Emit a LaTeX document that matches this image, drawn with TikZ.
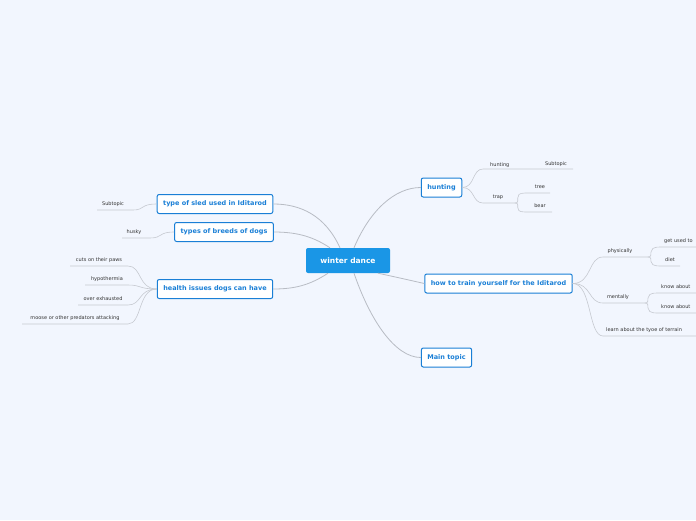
\documentclass[tikz,border=0pt]{standalone}
\usepackage{fontspec}
\setmainfont{DejaVu Sans}
\usetikzlibrary{positioning}
\definecolor{bgblue}{HTML}{F2F6FE}
\definecolor{topicblue}{HTML}{1A7FD6}
\definecolor{centerblue}{HTML}{1A96E6}
\definecolor{wiregray}{HTML}{B8BCC4}
\tikzset{
  topic/.style={draw=topicblue,line width=1pt,fill=white,rounded corners=2pt,
    text=topicblue,font=\fontsize{6.5}{8}\selectfont\bfseries,inner xsep=6pt,minimum height=19pt},
  leaf/.style={font=\fontsize{5}{6}\selectfont,text=black!80,inner sep=1pt},
  wire/.style={draw=wiregray,line width=0.8pt},
  thin/.style={draw=wiregray!80,line width=0.6pt}
}
\begin{document}
\begin{tikzpicture}[x=1pt,y=-1pt]
\fill[bgblue] (0,0) rectangle (696,520);
\useasboundingbox (0,0) rectangle (696,520);
\clip (0,0) rectangle (696,520);
\node[fill=centerblue,rounded corners=2pt,text=white,font=\fontsize{7.5}{9}\selectfont\bfseries,
  minimum width=84pt,minimum height=25pt] (root) at (348,260.5) {winter dance};
%%%%%%%%%%%%%%%%%%%%%%%%%%%%%%%%%
\node[topic] (hunt) at (441.5,187.5) {hunting};
\node[topic] (train) at (498.5,283.5) {how to train yourself for the Iditarod};
\node[topic] (mainb) at (446.5,357.5) {Main topic};
\node[topic] (sled) at (215,204) {type of sled used in Iditarod};
\node[topic] (breed) at (224,232) {types of breeds of dogs};
\node[topic] (health) at (215,289) {health issues dogs can have};
\draw[wire] (root.north) ++(6,0) .. controls (370,210) and (395,187.5) .. (hunt.west);
\draw[wire] (root.south) ++(30,0) .. controls (400,278) .. (train.west);
\draw[wire] (root.south) ++(6,0) .. controls (370,320) and (395,357.5) .. (mainb.west);
\draw[wire] (root.north) ++(-8,0) .. controls (325,215) and (300,204) .. (sled.east);
\draw[wire] (root.north) ++(-18,0) .. controls (315,238) and (300,232) .. (breed.east);
\draw[wire] (root.south) ++(-20,0) .. controls (310,285) and (295,289) .. (health.east);
%%%%%%%%%%%%%%%%%%%%%%%%%%%%%%%%%
\coordinate (hu1) at (483,169); \coordinate (hu2) at (518,169);
\coordinate (su2) at (573,169);
\node[leaf,above right=0pt and 6pt of hu1] (hunting) {hunting};
\node[leaf] (sub1) at (556,164) {Subtopic};
\draw[thin] (hunt.east) .. controls (475,187.5) and (472,169) .. (hu1) -- (su2);
\coordinate (tr1) at (483,203); \coordinate (tr2) at (515,203);
\node[leaf] (trap) at (498,197) {trap};
\draw[thin] (hunt.east) .. controls (475,187.5) and (472,203) .. (tr1) -- (tr2);
\node[leaf] (tree) at (540,187) {tree};
\node[leaf] (bear) at (540,206) {bear};
\draw[thin] (tr2) .. controls (522,203) and (512,193) .. (525,193) -- (550,193);
\draw[thin] (tr2) .. controls (522,203) and (512,212) .. (525,212) -- (552,212);
%%%%%%%%%%%%%%%%%%%%%%%%%%%%%%%%%
\node[leaf] (phys) at (620,251) {physically};
\node[leaf] (ment) at (618,297) {mentally};
\node[leaf,anchor=west] (terrain) at (605,330) {learn about the tyoe of terrain};
\draw[thin] (train.east) .. controls (592,283.5) and (588,257) .. (603,257) -- (648,257);
\draw[thin] (train.east) .. controls (592,283.5) and (588,303) .. (603,303) -- (645,303);
\draw[thin] (train.east) .. controls (592,283.5) and (588,336) .. (603,336) -- (696,336);
\node[leaf,anchor=west] (getused) at (663,241) {get used to};
\node[leaf,anchor=west] (diet) at (664,260) {diet};
\draw[thin] (648,257) .. controls (655,257) and (645,247) .. (660,247) -- (696,247);
\draw[thin] (648,257) .. controls (655,257) and (645,266) .. (660,266) -- (680,266);
\node[leaf,anchor=west] (know1) at (660,287) {know about};
\node[leaf,anchor=west] (know2) at (660,307) {know about};
\draw[thin] (645,303) .. controls (652,303) and (642,293) .. (657,293) -- (696,293);
\draw[thin] (645,303) .. controls (652,303) and (642,313) .. (657,313) -- (696,313);
%%%%%%%%%%%%%%%%%%%%%%%%%%%%%%%%%
\node[leaf] (sub2) at (113,204) {Subtopic};
\draw[thin] (sled.west) .. controls (140,204) and (145,210) .. (133,210) -- (97,210);
\node[leaf] (husky) at (134,232) {husky};
\draw[thin] (breed.west) .. controls (158,232) and (163,238) .. (150,238) -- (122,238);
\node[leaf] (paws) at (99,260) {cuts on their paws};
\node[leaf] (hypo) at (107,279) {hypothermia};
\node[leaf] (exh) at (103,299) {over exhausted};
\node[leaf] (moose) at (75,318) {moose or other predators attacking};
\draw[thin] (health.west) .. controls (138,289) and (142,266) .. (128,266) -- (70,266);
\draw[thin] (health.west) .. controls (138,289) and (142,285) .. (128,285) -- (85,285);
\draw[thin] (health.west) .. controls (138,289) and (142,305) .. (128,305) -- (78,305);
\draw[thin] (health.west) .. controls (138,289) and (142,324) .. (128,324) -- (22,324);
\end{tikzpicture}
\end{document}
